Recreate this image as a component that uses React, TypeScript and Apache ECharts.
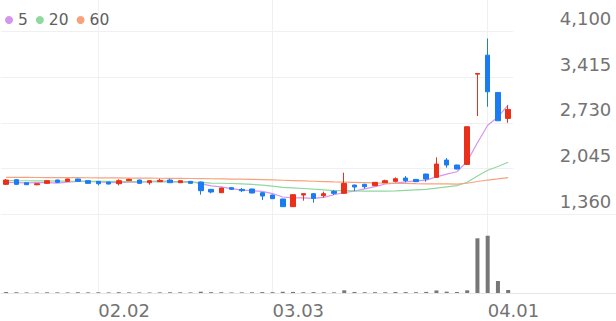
import React, { useEffect, useRef } from "react";
import * as echarts from "echarts";

const dates = [
  "01.20", "01.21", "01.22", "01.23", "01.26", "01.27", "01.28", "01.29", "01.30",
  "02.02", "02.03", "02.04", "02.05", "02.06", "02.09", "02.10", "02.11", "02.12", "02.13",
  "02.19", "02.20", "02.23", "02.24", "02.25", "02.26", "02.27",
  "03.03", "03.04", "03.05", "03.06", "03.09", "03.10", "03.11", "03.12", "03.13",
  "03.16", "03.17", "03.18", "03.19", "03.20", "03.23", "03.24", "03.25", "03.26", "03.27",
  "03.30", "03.31", "04.01", "04.02", "04.03",
];
const tickLabels = ["02.02", "03.03", "04.01"];
const priceTicks = [1360, 2045, 2730, 3415, 4100];

const opens = [
  1805, 1875, 1830, 1800, 1820, 1870, 1850, 1885, 1860, 1850,
  1840, 1815, 1860, 1870, 1830, 1845, 1870, 1830, 1850, 1840,
  1730, 1680, 1755, 1730, 1735, 1680, 1645, 1585, 1470, 1645,
  1665, 1635, 1700, 1670, 1795, 1805, 1785, 1830, 1850, 1900,
  1880, 1960, 1910, 2170, 2095, 2105, 3460, 3745, 3185, 2795,
];
const closes = [
  1870, 1805, 1800, 1815, 1860, 1835, 1885, 1850, 1820, 1815,
  1810, 1860, 1880, 1820, 1860, 1865, 1830, 1860, 1820, 1710,
  1690, 1750, 1730, 1710, 1675, 1630, 1590, 1470, 1650, 1665,
  1595, 1665, 1670, 1820, 1765, 1770, 1835, 1860, 1890, 1860,
  1845, 1885, 2110, 2095, 2035, 2670, 3470, 3195, 2760, 2930,
];
const lows = [
  1795, 1800, 1795, 1790, 1815, 1830, 1845, 1845, 1815, 1790,
  1805, 1790, 1855, 1815, 1800, 1840, 1825, 1825, 1815, 1650,
  1670, 1675, 1725, 1690, 1670, 1570, 1585, 1465, 1465, 1560,
  1530, 1605, 1645, 1665, 1705, 1740, 1780, 1825, 1835, 1835,
  1840, 1845, 1905, 2055, 2030, 2095, 2830, 2970, 2755, 2730,
];
const highs = [
  1885, 1880, 1835, 1820, 1865, 1875, 1890, 1890, 1865, 1855,
  1845, 1880, 1890, 1875, 1865, 1890, 1890, 1865, 1855, 1845,
  1735, 1755, 1760, 1750, 1740, 1685, 1650, 1590, 1655, 1670,
  1670, 1695, 1720, 1980, 1800, 1815, 1840, 1875, 1910, 1930,
  1885, 1965, 2210, 2200, 2100, 2675, 3470, 3995, 3190, 2990,
];
const volumes = [
  150, 120, 90, 80, 110, 100, 90, 120, 100, 110,
  90, 130, 100, 90, 80, 100, 120, 110, 90, 200,
  130, 120, 90, 100, 110, 140, 130, 190, 170, 120,
  140, 110, 100, 420, 160, 120, 130, 120, 150, 140,
  120, 170, 400, 210, 150, 420, 8550, 8950, 1875, 470,
];
const ma5 = [
  1835, 1832, 1828, 1830, 1830, 1823, 1839, 1849, 1850, 1841,
  1836, 1831, 1837, 1837, 1846, 1857, 1851, 1847, 1847, 1817,
  1782, 1766, 1740, 1718, 1711, 1699, 1667, 1615, 1603, 1601,
  1594, 1609, 1649, 1683, 1703, 1738, 1772, 1810, 1824, 1843,
  1858, 1868, 1918, 1959, 1994, 2150, 2430, 2693, 2815, 3000,
];
const ma20 = [
  1862, 1860, 1859, 1857, 1856, 1855, 1853, 1852, 1851, 1850,
  1849, 1848, 1847, 1846, 1845, 1843, 1841, 1839, 1836, 1834,
  1825, 1822, 1818, 1813, 1804, 1793, 1778, 1759, 1751, 1743,
  1732, 1723, 1712, 1712, 1707, 1703, 1703, 1703, 1706, 1714,
  1722, 1729, 1748, 1767, 1785, 1837, 1931, 2017, 2073, 2136,
];
const ma60 = [
  1910, 1909, 1909, 1908, 1907, 1906, 1905, 1905, 1904, 1903,
  1902, 1901, 1900, 1899, 1898, 1897, 1896, 1895, 1893, 1891,
  1889, 1887, 1885, 1883, 1880, 1876, 1872, 1867, 1862, 1857,
  1852, 1847, 1842, 1838, 1834, 1830, 1826, 1823, 1820, 1818,
  1815, 1813, 1812, 1811, 1810, 1822, 1848, 1870, 1886, 1905,
];

const UP = "#ea2f1b";
const DOWN = "#1b7cf2";
const MA_COLORS = ["#d495ee", "#8fd89f", "#f7a27c"];
const FONT = "'DejaVu Sans', sans-serif";
const LABEL_COLOR = "#737373";

export default function App() {
  const ref = useRef<HTMLDivElement>(null);
  useEffect(() => {
    if (!ref.current) return;
    const chart = echarts.init(ref.current, null, { renderer: "svg" });
    const candleData = dates.map((_, i) => [opens[i], closes[i], lows[i], highs[i]]);
    const gridL = 1;
    const gridW = 512.3;
    const step = gridW / dates.length;
    const showTick = (_i: number, v: string) => tickLabels.includes(v);
    chart.setOption({
      animation: false,
      backgroundColor: "#ffffff",
      textStyle: { fontFamily: FONT },
      legend: {
        left: 0,
        top: 7,
        icon: "circle",
        itemWidth: 8,
        itemHeight: 8,
        itemGap: 8,
        selectedMode: false,
        textStyle: { fontSize: 15.5, color: "#606060", fontFamily: FONT, padding: [0, 0, 0, 0] },
        data: ["5", "20", "60"],
      },
      grid: [
        { left: gridL, top: 31.5, width: gridW, height: 182.5 },
        { left: gridL, top: 229, width: gridW, height: 64 },
        { left: gridL + step / 2, top: 0, width: gridW - step, height: 293 },
      ],
      xAxis: [
        {
          type: "category", gridIndex: 0, data: dates, boundaryGap: true,
          axisLine: { show: false }, axisTick: { show: false }, axisLabel: { show: false }, splitLine: { show: false },
        },
        {
          type: "category", gridIndex: 1, data: dates, boundaryGap: true,
          axisLine: { show: true, lineStyle: { color: "#e6e6e6", width: 1 } },
          axisTick: { show: false }, axisLabel: { show: false }, splitLine: { show: false },
        },
        {
          type: "category", gridIndex: 2, data: dates, boundaryGap: false,
          axisLine: { show: false }, axisTick: { show: false },
          axisLabel: {
            show: true, interval: showTick, align: "left", margin: 8,
            fontSize: 18, color: LABEL_COLOR, fontFamily: FONT,
          },
          splitLine: { show: true, interval: showTick, lineStyle: { color: "#f0f0f0", width: 1 } },
        },
      ],
      yAxis: [
        {
          type: "value", gridIndex: 0, position: "right",
          min: priceTicks[0], max: priceTicks[priceTicks.length - 1],
          interval: priceTicks[1] - priceTicks[0],
          axisLine: { show: false }, axisTick: { show: false },
          axisLabel: {
            show: true, align: "right", verticalAlign: "bottom", margin: 98,
            padding: [0, 0, 4, 0], lineHeight: 18,
            fontSize: 18, color: LABEL_COLOR, fontFamily: FONT,
            showMinLabel: true, showMaxLabel: true,
            formatter: (v: number) => v.toLocaleString("en-US"),
          },
          splitLine: { show: true, lineStyle: { color: "#f0f0f0", width: 1 } },
        },
        {
          type: "value", gridIndex: 1, min: 0, max: 10000,
          show: false, splitLine: { show: false },
        },
        { type: "value", gridIndex: 2, show: false, splitLine: { show: false } },
      ],
      series: [
        {
          type: "candlestick", name: "price", xAxisIndex: 0, yAxisIndex: 0, z: 3,
          barWidth: 5,
          data: candleData,
          itemStyle: { color: UP, color0: DOWN, borderColor: UP, borderColor0: DOWN, borderWidth: 1 },
        },
        {
          type: "line", name: "5", xAxisIndex: 0, yAxisIndex: 0, data: ma5, z: 2,
          showSymbol: false, symbol: "none", color: MA_COLORS[0], lineStyle: { width: 1.2, color: MA_COLORS[0] },
        },
        {
          type: "line", name: "20", xAxisIndex: 0, yAxisIndex: 0, data: ma20, z: 2,
          showSymbol: false, symbol: "none", color: MA_COLORS[1], lineStyle: { width: 1.2, color: MA_COLORS[1] },
        },
        {
          type: "line", name: "60", xAxisIndex: 0, yAxisIndex: 0, data: ma60, z: 2,
          showSymbol: false, symbol: "none", color: MA_COLORS[2], lineStyle: { width: 1.2, color: MA_COLORS[2] },
        },
        {
          type: "bar", name: "volume", xAxisIndex: 1, yAxisIndex: 1, data: volumes,
          barWidth: 4, itemStyle: { color: "#777777" },
        },
      ],
      graphic: [
        { type: "line", shape: { x1: 513, y1: 214.5, x2: 616, y2: 214.5 }, style: { stroke: "#f0f0f0", lineWidth: 1 }, silent: true },
        { type: "line", shape: { x1: 513, y1: 293.5, x2: 616, y2: 293.5 }, style: { stroke: "#e6e6e6", lineWidth: 1 }, silent: true },
      ],
    });
    return () => chart.dispose();
  }, []);
  return <div ref={ref} style={{ position: "fixed", left: 0, top: 0, width: 616, height: 321 }} />;
}
